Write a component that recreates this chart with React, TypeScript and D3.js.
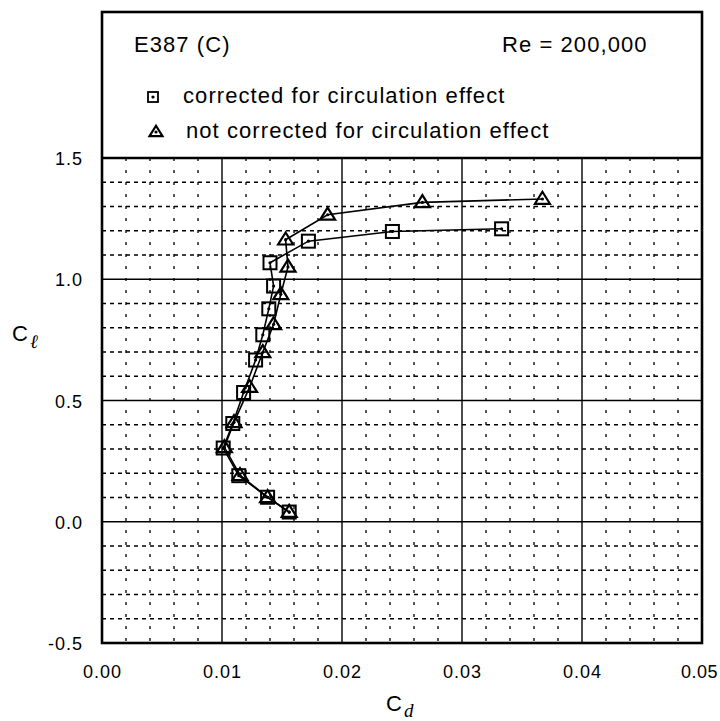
import React from 'react';
import * as d3 from 'd3';

const corrCd = [0.0156, 0.0138, 0.0114, 0.0101, 0.0109, 0.0118, 0.0128, 0.0134, 0.0139, 0.0143, 0.0140, 0.0172, 0.0242, 0.0333];
const corrCl = [0.040, 0.101, 0.190, 0.304, 0.405, 0.533, 0.667, 0.771, 0.878, 0.972, 1.068, 1.157, 1.197, 1.208];
const uncCd = [0.0156, 0.0138, 0.0115, 0.0102, 0.0110, 0.0123, 0.0134, 0.0143, 0.0149, 0.0155, 0.0153, 0.0188, 0.0267, 0.0367];
const uncCl = [0.040, 0.101, 0.192, 0.307, 0.410, 0.555, 0.699, 0.814, 0.938, 1.051, 1.163, 1.266, 1.317, 1.331];
const xTicks = [0, 0.01, 0.02, 0.03, 0.04, 0.05];
const xTickLabels = ['0.00', '0.01', '0.02', '0.03', '0.04', '0.05'];
const yTicks = [-0.5, 0, 0.5, 1.0, 1.5];
const yTickLabels = ['-0.5', '0.0', '0.5', '1.0', '1.5'];
const title = 'E387 (C)';
const reText = 'Re = 200,000';
const legendLabels = ['corrected for circulation effect', 'not corrected for circulation effect'];

const FONT = '"Liberation Sans", Arial, Helvetica, sans-serif';

export default function App() {
  const W = 720, H = 721;
  const L = 102, R = 702, T = 158, B = 643, boxTop = 12;
  const x = d3.scaleLinear().domain([0, 0.05]).range([L, R]);
  const y = d3.scaleLinear().domain([-0.5, 1.5]).range([B, T]);

  const minorX = d3.range(1, 25).map(i => i * 0.002).filter((_, i) => (i + 1) % 5 !== 0);
  const minorY = d3.range(1, 20).map(i => -0.5 + i * 0.1).filter((_, i) => (i + 1) % 5 !== 0);

  const line = d3.line<[number, number]>().x(d => x(d[0])).y(d => y(d[1]));
  const corr: [number, number][] = corrCd.map((c, i) => [c, corrCl[i]]);
  const unc: [number, number][] = uncCd.map((c, i) => [c, uncCl[i]]);

  const sq = (cx: number, cy: number, s: number, key: string, sw = 2) => (
    <g key={key}>
      <rect x={cx - s / 2} y={cy - s / 2} width={s} height={s} fill="none" stroke="#000" strokeWidth={sw} />
      <circle cx={cx} cy={cy} r={1.6} fill="#000" />
    </g>
  );
  const tri = (cx: number, cy: number, s: number, key: string, sw = 2.2) => {
    const h = s * 0.8;
    const p = `M${cx},${cy - h * 0.6} L${cx + s / 2},${cy + h * 0.4} L${cx - s / 2},${cy + h * 0.4} Z`;
    return (
      <g key={key}>
        <path d={p} fill="none" stroke="#000" strokeWidth={sw} strokeLinejoin="miter" />
        <circle cx={cx} cy={cy} r={1.6} fill="#000" />
      </g>
    );
  };

  return (
    <svg width={W} height={H} style={{ position: 'absolute', left: 0, top: 0, background: '#fff' }} fontFamily={FONT}>
      <rect x={0} y={0} width={W} height={H} fill="#fff" />
      {/* minor grid */}
      {minorX.map((v, i) => (
        <line key={'mx' + i} x1={x(v)} x2={x(v)} y1={T} y2={B} stroke="#000" strokeWidth={1.3} strokeDasharray="3,9" />
      ))}
      {minorY.map((v, i) => (
        <line key={'my' + i} x1={L} x2={R} y1={y(v)} y2={y(v)} stroke="#000" strokeWidth={1.3} strokeDasharray="4,4" />
      ))}
      {/* major grid */}
      {xTicks.map((v, i) => (
        <line key={'Mx' + i} x1={x(v)} x2={x(v)} y1={T} y2={B} stroke="#000" strokeWidth={1.4} />
      ))}
      {yTicks.map((v, i) => (
        <line key={'My' + i} x1={L} x2={R} y1={y(v)} y2={y(v)} stroke="#000" strokeWidth={1.4} />
      ))}
      {/* frame */}
      <rect x={L} y={boxTop} width={R - L} height={B - boxTop} fill="none" stroke="#000" strokeWidth={2.6} />
      <line x1={L} x2={R} y1={T} y2={T} stroke="#000" strokeWidth={2.6} />

      {/* series */}
      <path d={line(corr) || ''} fill="none" stroke="#000" strokeWidth={1.6} />
      <path d={line(unc) || ''} fill="none" stroke="#000" strokeWidth={1.6} />
      {corr.map((d, i) => sq(x(d[0]), y(d[1]), 13, 'c' + i))}
      {unc.map((d, i) => tri(x(d[0]), y(d[1]), 15, 'u' + i))}

      {/* tick labels */}
      {xTicks.map((v, i) => {
        const last = i === xTicks.length - 1;
        return (
          <text key={'xl' + i} x={last ? W - 2 : x(v) + 0.5} y={678} textAnchor={last ? 'end' : 'middle'} fontSize={18} letterSpacing={last ? 0.5 : 1}>{xTickLabels[i]}</text>
        );
      })}
      {yTicks.map((v, i) => (
        <text key={'yl' + i} x={L - 19} y={y(v) + 7} textAnchor="end" fontSize={18} letterSpacing={1}>{yTickLabels[i]}</text>
      ))}
      {/* axis titles */}
      <text x={12} y={341} fontSize={22}>C<tspan dx={2} dy={7} fontSize={19} fontStyle="italic" fontFamily="'DejaVu Serif', serif">ℓ</tspan></text>
      <text x={386} y={711} fontSize={22}>C<tspan dx={2} dy={6} fontSize={19} fontStyle="italic" fontFamily="'Liberation Serif', serif">d</tspan></text>

      {/* legend box contents */}
      <text x={134} y={52} fontSize={22} letterSpacing={1.07}>{title}</text>
      <text x={502} y={52} fontSize={22} letterSpacing={1.07}>{reText}</text>
      {sq(153, 97, 10, 'lsq', 1.8)}
      <text x={183} y={103} fontSize={22} letterSpacing={1.07}>{legendLabels[0]}</text>
      {tri(156, 132, 13, 'ltri', 2.2)}
      <text x={186} y={138} fontSize={22} letterSpacing={1.07}>{legendLabels[1]}</text>
    </svg>
  );
}
